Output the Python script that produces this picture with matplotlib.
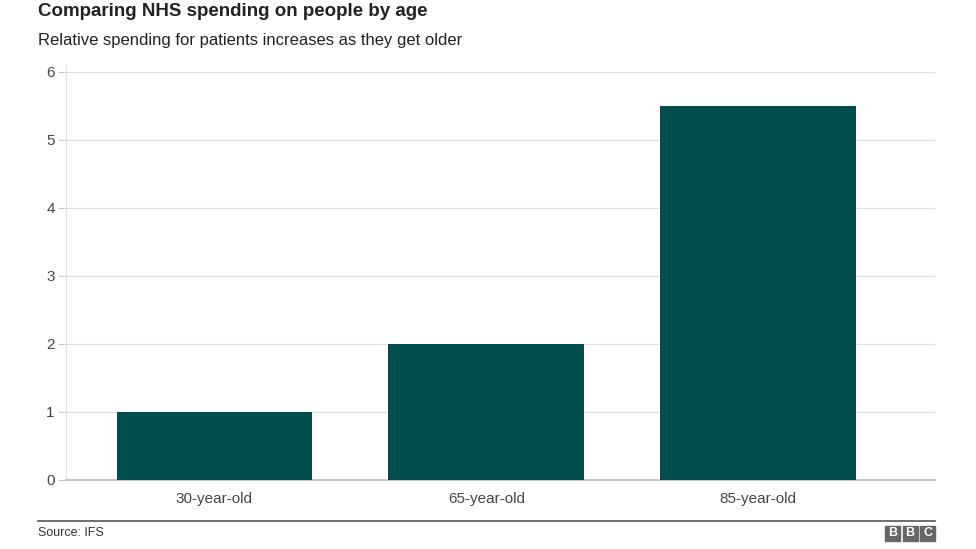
import matplotlib.pyplot as plt
import numpy as np

plt.rcParams['font.family'] = ['Liberation Sans', 'DejaVu Sans']

ages = ['30-year-old', '65-year-old', '85-year-old']
relative_spend = [1, 2, 5.5]
yticks = [0, 1, 2, 3, 4, 5, 6]

fig = plt.figure(figsize=(9.76, 5.49), dpi=100)
ax = fig.add_axes([0.0676, 0.1257, 0.8904, 0.7432])

x = np.arange(len(ages))
ax.bar(x, relative_spend, width=0.72, color='#034d4e', zorder=3)

ax.set_xlim(-0.546, 2.65)
ax.set_ylim(0, 6)
ax.set_yticks(yticks)
ax.set_xticks(x)
ax.set_xticklabels(ages)
ax.grid(axis='y', color='#e0e0e0', linewidth=0.9, zorder=0)
ax.tick_params(axis='y', length=6, color='#cccccc', labelsize=11, labelcolor='#444444', pad=2)
ax.tick_params(axis='x', length=0, labelsize=11, labelcolor='#444444', pad=9)
for s in ['top', 'right']:
    ax.spines[s].set_visible(False)
ax.spines['left'].set_color('#e0e0e0')
ax.spines['bottom'].set_color('#bbbbbb')
ax.spines['bottom'].set_linewidth(1.2)
ax.spines['left'].set_bounds(0, 6.1)
ax.set_clip_on(False)

fig.text(38/976, 1 - 12/549, 'Comparing NHS spending on people by age',
         fontsize=13.5, fontweight='bold', color='#222222', va='center')
fig.text(38/976, 1 - 41/549, 'Relative spending for patients increases as they get older',
         fontsize=12, color='#222222', va='center')

# footer rule, source and logo
fig.add_artist(plt.Line2D([38/976, 935/976], [1 - 521/549, 1 - 521/549],
                          color='#555555', linewidth=1.2))
fig.text(38/976, 1 - 533/549, 'Source: IFS', fontsize=9, color='#333333', va='center')
for i, letter in enumerate('BBC'):
    x0 = (885 + i * 17.5) / 976
    fig.add_artist(plt.Rectangle((x0, 1 - 541/549), 15/976, 15/549,
                                 color='#666666', transform=fig.transFigure))
    fig.text(x0 + 7.5/976, 1 - 533.5/549, letter, fontsize=9, fontweight='bold',
             color='white', ha='center', va='center')

fig.savefig('out.png', dpi=100)
